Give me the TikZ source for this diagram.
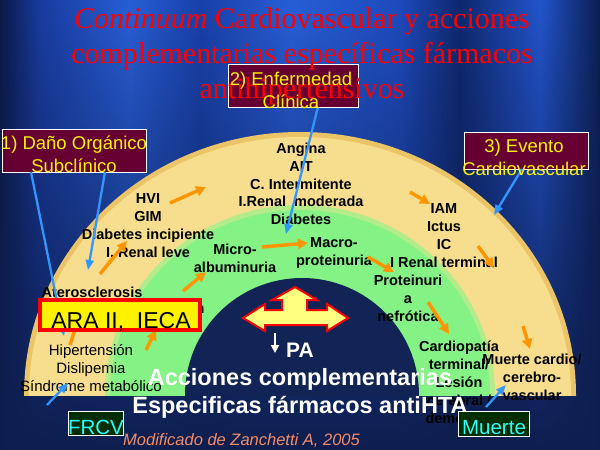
\documentclass[tikz,border=0pt]{standalone}
\usepackage{fontspec}
\setmainfont{Liberation Serif}
\setsansfont{Liberation Sans}
\usetikzlibrary{arrows.meta,fadings}
\definecolor{bgdark}{RGB}{14,30,78}
\definecolor{yeledge}{RGB}{236,196,104}
\definecolor{yelband}{RGB}{246,222,142}
\definecolor{grnedge}{RGB}{180,236,140}
\definecolor{grnband}{RGB}{132,242,132}
\definecolor{innernavy}{RGB}{18,36,86}
\definecolor{maroonbox}{RGB}{102,0,51}
\definecolor{boxgreen}{RGB}{0,46,0}
\definecolor{cyantext}{RGB}{40,255,255}
\definecolor{orangearr}{RGB}{255,150,0}
\definecolor{bluearr}{RGB}{50,150,255}
\definecolor{credit}{RGB}{245,140,100}
\definecolor{arrowyel}{RGB}{255,255,128}
\pgfdeclarehorizontalshading{bgstripes}{100bp}{%
rgb(0bp)=(0.047,0.098,0.275);
rgb(25bp)=(0.047,0.098,0.275);
rgb(28.3bp)=(0.098,0.235,0.627);
rgb(35.8bp)=(0.157,0.373,0.843);
rgb(41.7bp)=(0.098,0.255,0.667);
rgb(49.2bp)=(0.157,0.373,0.843);
rgb(58.3bp)=(0.118,0.294,0.745);
rgb(63.3bp)=(0.059,0.157,0.431);
rgb(70bp)=(0.137,0.333,0.804);
rgb(75bp)=(0.047,0.118,0.314);
rgb(100bp)=(0.047,0.118,0.314)}
\tikzfading[name=fadebottom, top color=transparent!100, middle color=transparent!75, bottom color=transparent!0]
\begin{document}
\begin{tikzpicture}[x=1pt,y=-1pt,
  bandtxt/.style={font=\sffamily\bfseries\fontsize{14.5}{18}\selectfont, text=black, align=center, inner sep=0pt, execute at begin node=\strut, execute at end node=\strut},
  bandlight/.style={font=\sffamily\fontsize{15}{18}\selectfont, text=black, align=center, inner sep=0pt, execute at begin node=\strut, execute at end node=\strut},
  stagebox/.style={draw=white, line width=0.8pt, fill=maroonbox, inner sep=0pt},
  stagetxt/.style={font=\sffamily\fontsize{18.5}{23}\selectfont, text=yellow, align=center, inner sep=0pt, execute at begin node=\strut, execute at end node=\strut},
  endbox/.style={draw=white, line width=0.8pt, fill=boxgreen, inner sep=0pt},
  endtxt/.style={font=\sffamily\fontsize{20.5}{20}\selectfont, text=cyantext, inner sep=0pt, execute at begin node=\strut},
  titletxt/.style={font=\rmfamily\fontsize{30}{35}\selectfont, text=red, align=center, inner sep=0pt, execute at begin node=\strut, execute at end node=\strut},
  whitetxt/.style={font=\sffamily\bfseries\fontsize{23.5}{28}\selectfont, text=white, align=center, inner sep=0pt, execute at begin node=\strut, execute at end node=\strut},
  orarrow/.style={draw=orangearr, line width=3.5pt, -{Triangle[length=10pt,width=10pt]}},
  bluearrow/.style={draw=bluearr, line width=2.3pt, -{Triangle[length=10pt,width=8pt]}},
]
\useasboundingbox (0,0) rectangle (600,450);
% background
\shade[shading=bgstripes] (0,0) rectangle (600,450);
\fill[bgdark, path fading=fadebottom] (0,0) rectangle (600,450);
% bands
\begin{scope}
\clip (0,0) rectangle (600,395);
\fill[yeledge] (300,395) ellipse [x radius=276pt, y radius=263pt];
\fill[yelband] (300,395) ellipse [x radius=271pt, y radius=258pt];
\fill[grnedge] (300,395) ellipse [x radius=195pt, y radius=190pt];
\fill[grnband] (300,395) ellipse [x radius=190pt, y radius=185pt];
\fill[innernavy] (302,395) circle [radius=117pt];
\end{scope}
% band texts
\node[bandtxt] (g1) at (148,228) {HVI\\GIM\\Diabetes incipiente\\I. Renal leve};
\node[bandtxt, font=\sffamily\bfseries\fontsize{14.5}{17.75}\selectfont] (g2) at (301,186.5) {Angina\\AIT\\C. Intermitente\\I.Renal\ \ moderada\\Diabetes};
\node[bandtxt] (g3) at (444,238) {IAM\\Ictus\\IC\\I Renal terminal};
\node[bandtxt] (ath) at (92,294) {Aterosclerosis};
\node[bandtxt] (hidn) at (200,310) {n};
\node[bandlight] (g4) at (91,371) {Hipertensión\\Dislipemia\\Síndrome metabólico};
\node[bandtxt] (g5) at (532,380) {Muerte cardio/\\cerebro-\\vascular};
\node[bandtxt] (g6) at (235,261) {Micro-\\albuminuria};
\node[bandtxt] (g7) at (334,254) {Macro-\\proteinuria};
\node[bandtxt] (g8) at (408,301) {Proteinuri\\a\\nefrótica};
\node[bandtxt] (g9) at (459,385) {Cardiopatía\\terminal/\\Lesión\\cerebral /\\demencia};
% orange arrows
\coordinate (o1a) at (170,203); \coordinate (o1b) at (206,187);
\coordinate (o2a) at (100,274); \coordinate (o2b) at (127,241);
\coordinate (o3a) at (183,291); \coordinate (o3b) at (206,272);
\coordinate (o4a) at (262,247); \coordinate (o4b) at (308,243);
\coordinate (o5a) at (410,192); \coordinate (o5b) at (430,204);
\coordinate (o6a) at (478,246); \coordinate (o6b) at (494,268);
\coordinate (o7a) at (368,257); \coordinate (o7b) at (394,272);
\coordinate (o8a) at (428,302); \coordinate (o8b) at (449,334);
\coordinate (o9a) at (523,326); \coordinate (o9b) at (530,349);
\coordinate (o10a) at (70,345); \coordinate (o10b) at (78,320);
\coordinate (o11a) at (146,350); \coordinate (o11b) at (156,330);
\foreach \o in {o1,o2,o3,o4,o5,o6,o7,o8,o9,o10,o11}
  \draw[orarrow] (\o a) -- (\o b);
% stage boxes
\node[stagebox, minimum width=144pt, minimum height=43pt] (b1) at (74,150.5) {};
\node[stagebox, minimum width=124pt, minimum height=37pt] (b3) at (526,150.5) {};
% blue arrows
\coordinate (bl1a) at (31,172); \coordinate (bl1b) at (64,336);
\coordinate (bl2a) at (105,172); \coordinate (bl2b) at (88,270);
\coordinate (bl3a) at (318,107); \coordinate (bl3b) at (286,234);
\coordinate (bl4a) at (522,169); \coordinate (bl4b) at (494,215);
\coordinate (bl5a) at (47,405); \coordinate (bl5b) at (68,383);
\coordinate (bl6a) at (486,407); \coordinate (bl6b) at (506,385);
\foreach \b in {bl1,bl2,bl3,bl4,bl5,bl6}
  \draw[bluearrow] (\b a) -- (\b b);
\node[stagetxt] (t1) at (74,158) {1) Daño Orgánico\\Subclínico};
\node[stagetxt] (t3) at (524,161) {3) Evento\\Cardiovascular};
% ARA II box
\node[draw=red, line width=4pt, fill=yellow, minimum width=160pt, minimum height=30pt, inner sep=0pt] (ara) at (120,315) {};
\node[font=\sffamily\fontsize{23}{23}\selectfont, inner sep=0pt, execute at begin node=\strut] (aratxt) at (121,323.5) {ARA II,\ \ IECA};
% white texts
\node[whitetxt] (acc) at (300,395) {Acciones complementarias\\Especificas fármacos antiHTA};
% end boxes
\node[endbox, minimum width=55pt, minimum height=24pt] (frcv) at (95.5,423) {};
\node[endtxt] (frcvtxt) at (96,430.5) {FRCV};
\node[endbox, minimum width=71pt, minimum height=25pt] (muerte) at (493.5,423.5) {};
\node[endtxt] (muertetxt) at (494,430.5) {Muerte};
% stage box 2 and title
\node[stagebox, minimum width=130pt, minimum height=43pt] (b2) at (293,85.5) {};
\node[titletxt] (title) at (302,58.5) {\textit{Continuum} Cardiovascular y acciones\\complementarias específicas fármacos\\antihipertensivos};
\node[stagetxt] (t2) at (291,94) {2) Enfermedad\\Clínica};
% PA
\coordinate (pa1) at (275,333); \coordinate (pa2) at (275,353);
\draw[white, line width=1.8pt, -{Triangle[length=8pt,width=8pt]}] (pa1) -- (pa2);
\node[font=\sffamily\bfseries\fontsize{21}{21}\selectfont, text=white, inner sep=0pt, execute at begin node=\strut] (pa) at (300,353.5) {PA};
% big three-headed arrow
\draw[red, line width=2pt, fill=arrowyel, line join=miter]
  (295,287) -- (317,300) -- (307,300) -- (307,310) -- (327,310) -- (327,304) -- (348,318)
  -- (327,331) -- (327,325) -- (265,325) -- (265,331) -- (243,318) -- (265,304) -- (265,310)
  -- (282,310) -- (282,300) -- (272,300) -- cycle;
% credit
\node[font=\sffamily\itshape\fontsize{16.5}{16.5}\selectfont, text=credit, inner sep=0pt, anchor=base] (cred) at (241.5,445) {Modificado de Zanchetti A, 2005};
\end{tikzpicture}
\end{document}
